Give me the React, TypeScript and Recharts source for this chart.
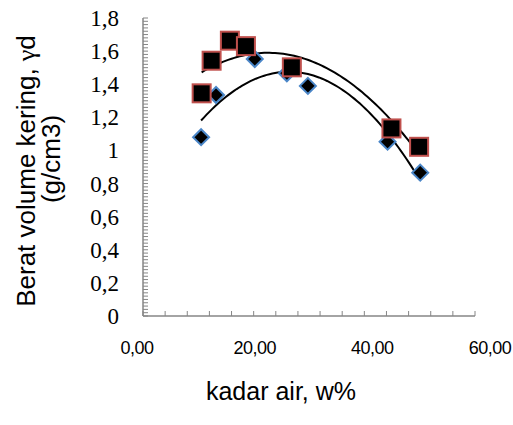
import React from 'react';
import { ComposedChart, Scatter, XAxis, YAxis } from 'recharts';

// Series A (diamonds)
const wA = [10.5, 13.2, 20.2, 26.0, 29.8, 44.2, 50.1];
const gA = [1.08, 1.335, 1.552, 1.466, 1.39, 1.053, 0.866];
// Series B (squares)
const wB = [10.6, 12.4, 15.7, 18.6, 26.9, 44.9, 49.9];
const gB = [1.345, 1.542, 1.663, 1.63, 1.502, 1.133, 1.022];

const xLabelTicks = [0, 20, 40, 60];
const yLabelTicks = [0, 0.2, 0.4, 0.6, 0.8, 1, 1.2, 1.4, 1.6, 1.8];
const xMinorStep = 4;
const yMinorStep = 0.02;

const toPoints = (xs: number[], ys: number[]) => xs.map((x, i) => ({ x, y: ys[i] }));
const dataA = toPoints(wA, gA);
const dataB = toPoints(wB, gB);

// least-squares polynomial (order 2) trendline, like a spreadsheet trendline
function quadFit(xs: number[], ys: number[]) {
  const S = [0, 0, 0, 0, 0];
  const T = [0, 0, 0];
  xs.forEach((x, i) => {
    for (let k = 0; k < 5; k++) S[k] += Math.pow(x, k);
    for (let k = 0; k < 3; k++) T[k] += ys[i] * Math.pow(x, k);
  });
  const M = [
    [S[0], S[1], S[2], T[0]],
    [S[1], S[2], S[3], T[1]],
    [S[2], S[3], S[4], T[2]],
  ];
  for (let c = 0; c < 3; c++) {
    for (let r = c + 1; r < 3; r++) {
      const f = M[r][c] / M[c][c];
      for (let k = c; k < 4; k++) M[r][k] -= f * M[c][k];
    }
  }
  const coef = [0, 0, 0];
  for (let r = 2; r >= 0; r--) {
    let s = M[r][3];
    for (let k = r + 1; k < 3; k++) s -= M[r][k] * coef[k];
    coef[r] = s / M[r][r];
  }
  return coef;
}
function trend(xs: number[], ys: number[]) {
  const [a, b, c] = quadFit(xs, ys);
  const lo = Math.min(...xs);
  const hi = Math.max(...xs);
  const n = 80;
  const pts = [] as { x: number; y: number }[];
  for (let i = 0; i <= n; i++) {
    const x = lo + ((hi - lo) * i) / n;
    pts.push({ x, y: a + b * x + c * x * x });
  }
  return pts;
}
const trendA = trend(wA, gA);
const trendB = trend(wB, gB);

const yTicks: number[] = [];
for (let i = 0; i <= Math.round(1.8 / yMinorStep); i++) yTicks.push(Math.round(i * yMinorStep * 100) / 100);
const xTicks: number[] = [];
for (let v = 0; v <= 60; v += xMinorStep) xTicks.push(v);

const AXIS = '#868686';

const fmtY = (v: number) => String(Math.round(v * 10) / 10).replace('.', ',');

const YTick = (props: any) => {
  const { x, y, payload } = props;
  const v = payload.value;
  const major = yLabelTicks.some((t) => Math.abs(t - v) < 1e-6);
  return (
    <g>
      <line x1={x} x2={x + 5} y1={y} y2={y} stroke={AXIS} strokeWidth={1} />
      {major && (
        <text x={x - 24} y={y} dy={8} textAnchor="end" fontFamily="'Liberation Serif', 'Times New Roman', serif" fontSize={23} fill="#000">
          {fmtY(v)}
        </text>
      )}
    </g>
  );
};

const XTick = (props: any) => {
  const { x, y, payload } = props;
  const v = payload.value;
  const major = xLabelTicks.includes(v);
  return (
    <g>
      <line x1={x} x2={x} y1={y} y2={y - 5} stroke={AXIS} strokeWidth={1} />
      {major && (
        <text x={x - 6 + v * 0.35} y={y + 38} textAnchor="middle" fontFamily="'Liberation Sans', Arial, sans-serif" fontSize={18} letterSpacing={-0.5} fill="#000">
          {v.toFixed(2).replace('.', ',')}
        </text>
      )}
    </g>
  );
};

const Diamond = (props: any) => {
  const { cx, cy } = props;
  const r = 8;
  return (
    <polygon
      points={`${cx},${cy - r} ${cx + r},${cy} ${cx},${cy + r} ${cx - r},${cy}`}
      fill="#000"
      stroke="#4a86c8"
      strokeWidth={2}
    />
  );
};

const Square = (props: any) => {
  const { cx, cy } = props;
  const h = 9;
  return <rect x={cx - h} y={cy - h} width={2 * h} height={2 * h} fill="#000" stroke="#c0504d" strokeWidth={2} />;
};

const XTitle = (props: any) => {
  const vb = props.viewBox;
  return (
    <text x={vb.x + vb.width / 2 - 28} y={vb.y + 84} textAnchor="middle" fontFamily="'Liberation Sans', Arial, sans-serif" fontSize={25} fill="#000">
      kadar air, w%
    </text>
  );
};

const YTitle = () => {
  const cy = 171;
  const f = "'Liberation Sans', Arial, sans-serif";
  return (
    <g>
      <text x={35} y={cy} transform={`rotate(-90, 35, ${cy})`} textAnchor="middle" fontFamily={f} fontSize={26} fill="#000">
        Berat volume kering,{' '}
        <tspan fontFamily="'Liberation Serif', serif">γ</tspan>d
      </text>
      <text x={60} y={cy - 12} transform={`rotate(-90, 60, ${cy - 12})`} textAnchor="middle" fontFamily={f} fontSize={26} fill="#000">
        (g/cm3)
      </text>
    </g>
  );
};

export default function App() {
  return (
    <div style={{ position: 'fixed', left: 0, top: 0, width: 513, height: 425, background: '#fff' }}>
      <ComposedChart width={513} height={425} margin={{ top: 18, right: 38, bottom: 0, left: 0 }}>
        <XAxis
          type="number"
          dataKey="x"
          domain={[0, 60]}
          ticks={xTicks}
          interval={0}
          tick={<XTick />}
          tickLine={false}
          tickSize={0}
          tickMargin={0}
          axisLine={{ stroke: AXIS, strokeWidth: 1.5 }}
          height={109}
          allowDataOverflow
          label={<XTitle />}
        />
        <YAxis
          type="number"
          dataKey="y"
          domain={[0, 1.8]}
          ticks={yTicks}
          interval={0}
          tick={<YTick />}
          tickLine={false}
          tickSize={0}
          tickMargin={0}
          axisLine={{ stroke: AXIS, strokeWidth: 1.5 }}
          width={143}
          allowDataOverflow
          label={<YTitle />}
        />
        <Scatter data={trendA} line={{ stroke: '#000', strokeWidth: 2 }} lineType="joint" shape={() => null} isAnimationActive={false} />
        <Scatter data={trendB} line={{ stroke: '#000', strokeWidth: 2 }} lineType="joint" shape={() => null} isAnimationActive={false} />
        <Scatter data={dataA} shape={<Diamond />} isAnimationActive={false} />
        <Scatter data={dataB} shape={<Square />} isAnimationActive={false} />
      </ComposedChart>
    </div>
  );
}
